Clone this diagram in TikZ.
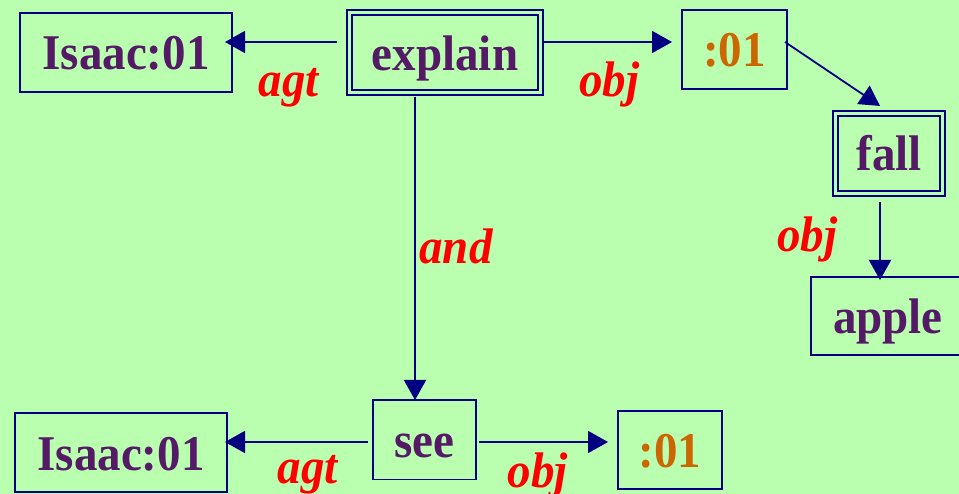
\documentclass[tikz,border=0pt]{standalone}
\usepackage{fontspec}
\setmainfont[FakeStretch=0.94]{Liberation Serif}
\usetikzlibrary{arrows.meta,calc}
\definecolor{bggreen}{HTML}{BAFFB0}
\definecolor{navy}{HTML}{000080}
\definecolor{concept}{HTML}{541A66}
\definecolor{instance}{HTML}{CC6600}
\definecolor{rel}{HTML}{FF0000}
\begin{document}
\begin{tikzpicture}[x=1pt,y=-1pt,
  every node/.style={font=\fontsize{50}{52}\selectfont\bfseries, outer sep=0pt, inner sep=0pt},
  ubox/.style={draw=navy, line width=1.8pt, text=concept, text height=35pt, text depth=0pt, align=center},
  ibox/.style={ubox, text=instance},
  dbox/.style={ubox, double=bggreen, double distance=3pt, line width=2pt},
  rlabel/.style={text=rel, font=\fontsize{50}{52}\selectfont\bfseries\itshape, anchor=base},
  link/.style={draw=navy, line width=1.8pt, -{Triangle[length=20pt,width=22pt]}}
]
\fill[bggreen] (0,0) rectangle (959,494);
\useasboundingbox (0,0) rectangle (959,494);

\node[ubox, minimum width=212pt, minimum height=79pt] (isaac1) at (126,52.5) {Isaac:01};
\node[dbox, minimum width=191pt, minimum height=80.5pt] (explain) at (445,52.75) {explain};
\node[ibox, minimum width=105pt, minimum height=79pt] (c1) at (734.5,49.5) {:01};
\node[dbox, minimum width=107pt, minimum height=79.7pt] (fall) at (889,153.3) {fall};
\node[ubox, minimum width=154pt, minimum height=78pt] (apple) at (888,316) {apple};
\node[ubox, minimum width=103pt, minimum height=79.5pt] (see) at (424.5,439.75) {see};
\node[ubox, minimum width=212pt, minimum height=79pt] (isaac2) at (121,452.5) {Isaac:01};
\node[ibox, minimum width=104pt, minimum height=78pt] (c2) at (670,450) {:01};

\draw[link] ([shift={(-12.5,-10.75)}]explain.west) -- ([shift={(-7,-10.5)}]isaac1.east);
\draw[link] ([shift={(3.5,-10.75)}]explain.east) -- ([shift={(-10,-7.5)}]c1.west);
\draw[link] ([shift={(-2,-7.5)}]c1.east) -- ([shift={(-9,-7.5)}]fall.north);
\draw[link] ([shift={(-9,8.8)}]fall.south) -- ([shift={(-8,3)}]apple.north);
\draw[link] ([shift={(-30,3.75)}]explain.south) -- ([shift={(-9.5,0)}]see.north);
\draw[link] ([shift={(-5,2.25)}]see.west) -- ([shift={(-2,-10.5)}]isaac2.east);
\draw[link] ([shift={(3,2.25)}]see.east) -- ([shift={(-10,-8)}]c2.west);

\node[rlabel] (lagt1) at (289,97) {agt};
\node[rlabel] (lobj1) at (609.5,97) {obj};
\node[rlabel] (land) at (456,264) {and};
\node[rlabel] (lobj3) at (807.5,252) {obj};
\node[rlabel] (lagt2) at (308,483) {agt};
\node[rlabel] (lobj2) at (538,487) {obj};
\end{tikzpicture}
\end{document}
